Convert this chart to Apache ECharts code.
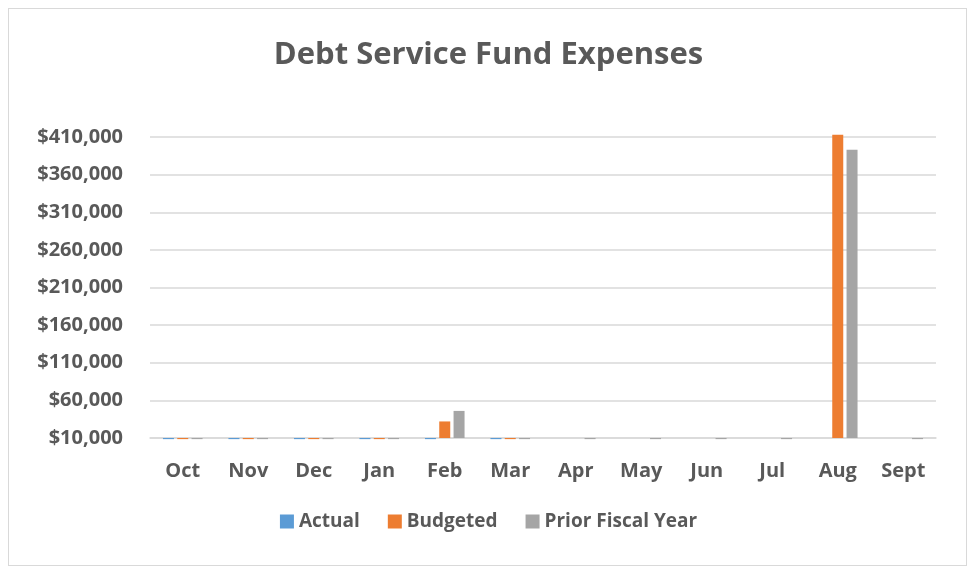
<!DOCTYPE html>
<html><head><meta charset="utf-8">
<script src="https://cdn.jsdelivr.net/npm/echarts@6/dist/echarts.min.js"></script>
<style>
html,body{margin:0;padding:0;background:#fff;}
#frame{position:absolute;left:8px;top:8px;width:957px;height:556px;border:1px solid #D9D9D9;}
#chart{position:absolute;left:0;top:0;width:977px;height:574px;}
</style></head>
<body>
<div id="frame"></div>
<div id="chart"></div>
<script>
var categories = ['Oct','Nov','Dec','Jan','Feb','Mar','Apr','May','Jun','Jul','Aug','Sept'];
var actual = [8500,8500,8500,8500,8500,8500,null,null,null,null,null,null];
var budgeted = [8500,8500,8500,8500,32000,8500,null,null,null,null,413000,null];
var priorFiscalYear = [8500,8500,8500,8500,46000,8500,8500,8500,8500,8500,393000,8500];
var yMin = 10000, yMax = 410000, yStep = 50000;

var textColor = '#595959';
var font = '"Open Sans", sans-serif';
var chart = echarts.init(document.getElementById('chart'));
function fmt(v){ return '$' + v.toLocaleString('en-US'); }
chart.setOption({
  animation:false,
  title:{text:'Debt Service Fund Expenses', left:'center', top:35,
    textStyle:{color:textColor, fontFamily:font, fontWeight:'bold', fontSize:31}},
  legend:{top:507, left:'center', itemWidth:14, itemHeight:14, itemGap:28,
    icon:'rect',
    textStyle:{color:textColor, fontFamily:font, fontWeight:'bold', fontSize:19}},
  grid:{left:150, right:41, top:137, bottom:136, containLabel:false},
  xAxis:{type:'category', data:categories,
    axisLine:{show:true, lineStyle:{color:'#D9D9D9', width:1.5}},
    axisTick:{show:false},
    axisLabel:{color:textColor, fontFamily:font, fontWeight:'bold', fontSize:20, margin:23}},
  yAxis:{type:'value', min:yMin, max:yMax, interval:yStep, startValue:yMin,
    axisLine:{show:false}, axisTick:{show:false},
    splitLine:{lineStyle:{color:'#D9D9D9', width:1.5}},
    axisLabel:{color:textColor, fontFamily:font, fontWeight:'bold', fontSize:20, margin:27,
      formatter:fmt}},
  series:[
    {name:'Actual', type:'bar', data:actual, barWidth:11, barGap:'30%', clip:false,
      itemStyle:{color:'#5B9BD5'}},
    {name:'Budgeted', type:'bar', data:budgeted, barWidth:11, barGap:'30%', clip:false,
      itemStyle:{color:'#ED7D31'}},
    {name:'Prior Fiscal Year', type:'bar', data:priorFiscalYear, barWidth:11, barGap:'30%', clip:false,
      itemStyle:{color:'#A5A5A5'}}
  ]
});
</script>
</body></html>
